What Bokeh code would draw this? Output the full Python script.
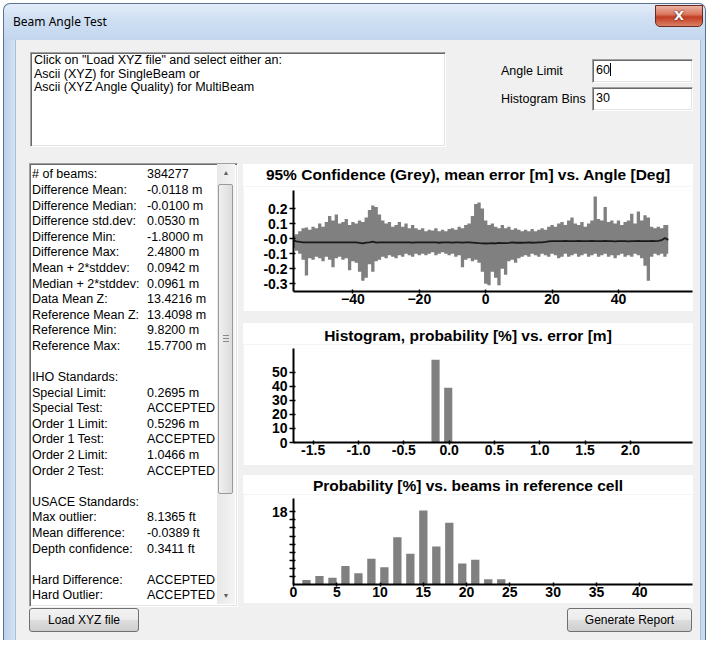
import html
from bokeh.plotting import figure
from bokeh.models import Range1d, FixedTicker, Div, Spacer
from bokeh.layouts import column, row
from bokeh.embed import file_html
from bokeh.resources import INLINE

# ---------------- data ----------------
angle_deg = list(range(-58, 56))
conf_upper = [0.02, 0.03, 0.05, 0.07, 0.075, 0.06, 0.08, 0.07, 0.10, 0.08,
              0.11, 0.15, 0.12, 0.16, 0.10, 0.11, 0.13, 0.09, 0.11, 0.10,
              0.12, 0.11, 0.14, 0.19, 0.22, 0.21, 0.16, 0.12, 0.10, 0.11,
              0.08, 0.09, 0.11, 0.08, 0.10, 0.07, 0.09, 0.07, 0.06, 0.07,
              0.05, 0.06, 0.055, 0.07, 0.05, 0.06, 0.05, 0.065, 0.07, 0.06,
              0.08, 0.07, 0.09, 0.10, 0.15, 0.23, 0.24, 0.20, 0.12, 0.09,
              0.10, 0.08, 0.07, 0.09, 0.07, 0.08, 0.06, 0.07, 0.06, 0.05,
              0.06, 0.05, 0.065, 0.05, 0.06, 0.07, 0.06, 0.08, 0.09, 0.08,
              0.10, 0.11, 0.09, 0.12, 0.14, 0.10, 0.09, 0.11, 0.08, 0.10,
              0.12, 0.28, 0.13, 0.12, 0.21, 0.11, 0.12, 0.10, 0.12, 0.09,
              0.11, 0.12, 0.165, 0.10, 0.18, 0.12, 0.155, 0.14, 0.08, 0.07,
              0.08, 0.07, 0.09, 0.09]
conf_lower = [-0.06, -0.08, -0.10, -0.14, -0.245, -0.13, -0.14, -0.12, -0.13, -0.15,
              -0.12, -0.14, -0.19, -0.13, -0.12, -0.14, -0.13, -0.21, -0.15, -0.16,
              -0.22, -0.28, -0.26, -0.17, -0.22, -0.15, -0.14, -0.12, -0.13, -0.11,
              -0.12, -0.13, -0.11, -0.12, -0.10, -0.11, -0.12, -0.10, -0.11, -0.10,
              -0.11, -0.10, -0.09, -0.11, -0.10, -0.09, -0.10, -0.11, -0.10, -0.12,
              -0.11, -0.19, -0.14, -0.13, -0.15, -0.14, -0.16, -0.22, -0.30, -0.31,
              -0.22, -0.26, -0.31, -0.20, -0.24, -0.15, -0.14, -0.16, -0.13, -0.12,
              -0.11, -0.12, -0.10, -0.11, -0.12, -0.10, -0.11, -0.12, -0.10, -0.11,
              -0.13, -0.12, -0.10, -0.12, -0.11, -0.10, -0.12, -0.11, -0.10, -0.12,
              -0.11, -0.10, -0.12, -0.11, -0.10, -0.12, -0.11, -0.13, -0.11, -0.10,
              -0.12, -0.11, -0.12, -0.10, -0.11, -0.13, -0.18, -0.28, -0.12, -0.10,
              -0.11, -0.10, -0.12, -0.10]
mean_error = [-0.012, -0.018, -0.022, -0.024, -0.025, -0.024, -0.025, -0.024, -0.025,
              -0.024, -0.025, -0.024, -0.025, -0.025, -0.024, -0.025, -0.024, -0.025, -0.024,
              -0.025, -0.028, -0.032, -0.026, -0.024, -0.020, -0.026, -0.025, -0.024, -0.025,
              -0.025, -0.024, -0.025, -0.024, -0.025, -0.024, -0.025, -0.026, -0.025, -0.024,
              -0.025, -0.024, -0.025, -0.024, -0.025, -0.027, -0.025, -0.024, -0.025, -0.026,
              -0.025, -0.024, -0.026, -0.025, -0.024, -0.026, -0.028, -0.030, -0.031, -0.032,
              -0.031, -0.030, -0.032, -0.028, -0.030, -0.029, -0.028, -0.025, -0.027, -0.026,
              -0.027, -0.026, -0.025, -0.027, -0.026, -0.025, -0.024, -0.022, -0.018, -0.016,
              -0.016, -0.017, -0.016, -0.015, -0.016, -0.017, -0.016, -0.015, -0.016, -0.017,
              -0.016, -0.014, -0.016, -0.017, -0.016, -0.015, -0.016, -0.017, -0.018, -0.016,
              -0.017, -0.016, -0.018, -0.017, -0.016, -0.015, -0.016, -0.017, -0.016, -0.015,
              -0.016, -0.014, -0.010, 0.004, -0.008]
angle_ticks = [-40, -20, 0, 20, 40]
error_ticks = [-0.3, -0.2, -0.1, 0, 0.1, 0.2]
error_tick_labels = ["-0.3", "-0.2", "-0.1", "-0.0", "0.1", "0.2"]

hist_error = [-0.15, -0.01]
hist_prob = [59, 39]
hist_x_ticks = [-1.5, -1.0, -0.5, 0, 0.5, 1.0, 1.5, 2.0]
hist_x_labels = ["-1.5", "-1.0", "-0.5", "0.0", "0.5", "1.0", "1.5", "2.0"]
hist_y_ticks = [0, 10, 20, 30, 40, 50]

beams_in_cell = [1.5, 3.0, 4.5, 6.0, 7.5, 9.0, 10.5, 12.0, 13.5, 15.0, 16.5, 18.0, 19.5, 21.0, 22.5, 24.0]
beam_prob = [1.1, 2.1, 1.7, 4.6, 2.8, 6.4, 4.3, 11.7, 7.6, 18.3, 9.4, 15.3, 5.2, 6.1, 1.3, 1.3]
beam_x_ticks = [0, 5, 10, 15, 20, 25, 30, 35, 40]
beam_y_ticks = [2, 4, 6, 8, 10, 12, 14, 16, 18]
beam_y_labels = ["", "", "", "", "", "", "", "", "18"]

stat_labels = ["# of beams:", "Difference Mean:", "Difference Median:", "Difference std.dev:",
               "Difference Min:", "Difference Max:", "Mean + 2*stddev:", "Median + 2*stddev:",
               "Data Mean Z:", "Reference Mean Z:", "Reference Min:", "Reference Max:", "",
               "IHO Standards:", "Special Limit:", "Special Test:", "Order 1 Limit:", "Order 1 Test:",
               "Order 2 Limit:", "Order 2 Test:", "", "USACE Standards:", "Max outlier:",
               "Mean difference:", "Depth confidence:", "", "Hard Difference:", "Hard Outlier:"]
stat_values = ["384277", "-0.0118 m", "-0.0100 m", "0.0530 m", "-1.8000 m", "2.4800 m",
               "0.0942 m", "0.0961 m", "13.4216 m", "13.4098 m", "9.8200 m", "15.7700 m", "",
               "", "0.2695 m", "ACCEPTED", "0.5296 m", "ACCEPTED", "1.0466 m", "ACCEPTED", "",
               "", "8.1365 ft", "-0.0389 ft", "0.3411 ft", "", "ACCEPTED", "ACCEPTED"]

instructions = ['Click on "Load XYZ file" and select either an:',
                "Ascii (XYZ) for SingleBeam or",
                "Ascii (XYZ Angle Quality) for MultiBeam"]
window_title = "Beam Angle Test"
angle_limit = "60"
histogram_bins = "30"

titles = ["95% Confidence (Grey), mean error [m] vs. Angle [Deg]",
          "Histogram, probability [%] vs. error [m]",
          "Probability [%] vs. beams in reference cell"]

# ---------------- styles ----------------
TICK_FONT = "Liberation Sans"
UI_FONT = "'Liberation Sans', Arial, sans-serif"
GREY = "#808080"
CLIENT_BG = "#f0f0f0"
FRAME_DARK = "#5b7291"
FRAME_LIGHT = "#a9bed8"


def make_fig(h, xr, yr, bottom):
    p = figure(width=450, height=h, x_range=Range1d(*xr), y_range=Range1d(*yr),
               output_backend="svg", toolbar_location=None, title=None,
               min_border_left=50, min_border_right=1,
               min_border_top=4, min_border_bottom=bottom,
               background_fill_color="white", border_fill_color="white",
               outline_line_color=None, margin=0)
    p.xgrid.visible = False
    p.ygrid.visible = False
    for ax in (p.xaxis[0], p.yaxis[0]):
        ax.axis_line_width = 2
        ax.axis_line_color = "black"
        ax.major_tick_line_width = 1.5
        ax.major_tick_line_color = "black"
        ax.major_tick_in = 2
        ax.minor_tick_line_color = None
        ax.major_label_text_font = TICK_FONT
        ax.major_label_text_font_size = "14px"
        ax.major_label_text_font_style = "bold"
        ax.major_label_text_color = "black"
    p.xaxis.major_tick_out = 2
    p.yaxis.major_tick_out = 4
    p.xaxis.major_label_standoff = 0
    p.yaxis.major_label_standoff = 2
    return p


def title_div(text, h, top):
    return Div(text=(f'<div style="position:relative;width:450px;height:{h}px;">'
                     f'<div style="position:absolute;left:0;top:{top}px;width:450px;text-align:center;'
                     f'font:bold 15.5px {UI_FONT};line-height:18px;color:#000;white-space:nowrap;">'
                     f'{html.escape(text)}</div></div>'),
               width=450, height=h, margin=0, styles={"background": "white"})


# chart 1: confidence band and mean error vs. angle
p1 = make_fig(125, (-57.9, 62.3), (-0.351, 0.32), 20)
p1.varea_step(x=angle_deg, y1=conf_lower, y2=conf_upper, step_mode="center", fill_color=GREY)
p1.line(angle_deg, mean_error, line_color="#1a1a1a", line_width=1.8)
p1.xaxis.ticker = FixedTicker(ticks=angle_ticks)
p1.yaxis.ticker = FixedTicker(ticks=error_ticks)
p1.yaxis.major_label_overrides = dict(zip(error_ticks, error_tick_labels))

# chart 2: histogram of errors
p2 = make_fig(121, (-1.717, 2.685), (0, 67.1), 23)
p2.vbar(x=hist_error, top=hist_prob, width=0.09, bottom=0, fill_color=GREY, line_color=None)
p2.xaxis.ticker = FixedTicker(ticks=hist_x_ticks)
p2.xaxis.major_label_overrides = dict(zip(hist_x_ticks, hist_x_labels))
p2.yaxis.ticker = FixedTicker(ticks=hist_y_ticks)

# chart 3: beams per reference cell
p3 = make_fig(109, (0, 46.1), (0, 21.3), 19)
p3.vbar(x=beams_in_cell, top=beam_prob, width=0.96, bottom=0, fill_color=GREY, line_color=None)
p3.xaxis.ticker = FixedTicker(ticks=beam_x_ticks)
p3.yaxis.ticker = FixedTicker(ticks=beam_y_ticks)
p3.yaxis.major_label_overrides = dict(zip(beam_y_ticks, beam_y_labels))

# ---------------- dialog chrome (HTML) ----------------
def div(html_text, w, h, bg=CLIENT_BG):
    return Div(text=html_text, width=w, height=h, margin=0,
               styles={"background": bg, "overflow": "hidden"})


FRAME_BG = "linear-gradient(to right,#bcd0ea,#d3e2f4)"
title_html = (
    '<div style="position:relative;width:708px;height:40px;">'
    f'<div style="position:absolute;left:3px;top:3px;width:703px;height:37px;box-sizing:border-box;'
    f'border:1px solid {FRAME_DARK};border-bottom:none;border-radius:7px 7px 0 0;'
    'background:linear-gradient(to bottom,#e3edf9 0%,#d0e0f3 40%,#c2d6ee 100%);">'
    f'<div style="position:absolute;left:9px;top:9px;font:12px \'Noto Sans\',sans-serif;color:#000;white-space:nowrap;">{html.escape(window_title)}</div>'
    '<div style="position:absolute;left:651px;top:1px;width:48px;height:22px;box-sizing:border-box;'
    'border:1px solid #6b2a1f;border-radius:0 0 5px 5px;'
    'background:linear-gradient(to bottom,#eab3a5 0%,#d9765d 42%,#c23c22 55%,#d98063 100%);'
    'color:#fff;font:bold 13px \'DejaVu Sans\',sans-serif;text-align:center;line-height:20px;'
    'text-shadow:0 0 2px #3a0a00;">X</div></div></div>')
title_bar = Div(text=title_html, width=708, height=40, margin=0, styles={"background": "white"})

left_frame = div(f'<div style="margin-left:3px;width:13px;height:600px;box-sizing:border-box;'
                 f'border-left:1px solid {FRAME_DARK};border-right:1px solid {FRAME_LIGHT};background:{FRAME_BG};"></div>',
                 16, 600, bg="white")
right_frame = div(f'<div style="width:6px;height:600px;box-sizing:border-box;border-left:1px solid {FRAME_LIGHT};'
                  f'border-right:1px solid {FRAME_DARK};background:#c9daef;"></div>', 8, 600, bg="white")
bottom_frame = div(f'<div style="margin-left:3px;width:703px;height:6px;box-sizing:border-box;'
                   f'border:1px solid {FRAME_DARK};border-top:1px solid {FRAME_LIGHT};border-radius:0 0 4px 4px;'
                   'background:#c9daef;"></div>', 708, 6, bg="white")

SUNKEN = ("border-top:1px solid #a0a0a0;border-left:1px solid #a0a0a0;border-right:1px solid #fff;"
          "border-bottom:1px solid #fff;box-shadow:inset 1px 1px 0 #696969, inset -1px -1px 0 #e3e3e3;")
BUTTON = ("box-sizing:border-box;border:1px solid #707070;border-radius:3px;"
          "background:linear-gradient(to bottom,#f2f2f2 0%,#ebebeb 50%,#dddddd 51%,#cfcfcf 100%);"
          f"font:12px {UI_FONT};color:#000;text-align:center;white-space:nowrap;")

# client area is x 16..700, y 40..640 of the window
instr_lines = "".join(f'<div style="white-space:nowrap;">{html.escape(t)}</div>' for t in instructions)
top_html = (
    f'<div style="position:relative;width:684px;height:120px;font:12.5px {UI_FONT};color:#000;">'
    f'<div style="position:absolute;left:14px;top:12px;width:416px;height:95px;box-sizing:border-box;'
    f'background:#fff;{SUNKEN}padding:1px 0 0 3px;line-height:13.5px;">{instr_lines}</div>'
    '<div style="position:absolute;left:485px;top:24px;white-space:nowrap;">Angle Limit</div>'
    '<div style="position:absolute;left:485px;top:52px;white-space:nowrap;">Histogram Bins</div>'
    f'<div style="position:absolute;left:576px;top:19px;width:101px;height:24px;box-sizing:border-box;background:#fff;{SUNKEN}'
    f'padding:3px 0 0 3px;">{angle_limit}<span style="display:inline-block;width:1px;height:13px;background:#000;vertical-align:-2px;"></span></div>'
    f'<div style="position:absolute;left:576px;top:47px;width:101px;height:24px;box-sizing:border-box;background:#fff;{SUNKEN}'
    f'padding:3px 0 0 3px;">{histogram_bins}</div>'
    '</div>')
top_div = div(top_html, 684, 120)

LINE_H = 15.59
stat_rows = []
for i, (lab, val) in enumerate(zip(stat_labels, stat_values)):
    t = 3.4 + i * LINE_H
    if lab:
        stat_rows.append(f'<div style="position:absolute;left:2px;top:{t:.2f}px;white-space:nowrap;">{html.escape(lab)}</div>')
    if val:
        stat_rows.append(f'<div style="position:absolute;left:117px;top:{t:.2f}px;white-space:nowrap;">{html.escape(val)}</div>')
scrollbar = (
    '<div style="position:absolute;left:187px;top:0px;width:18px;height:440px;background:linear-gradient(to right,#e8e8e8,#f4f4f4);">'
    '<div style="position:absolute;left:0;top:0;width:18px;height:17px;text-align:center;font:7px sans-serif;color:#606060;line-height:17px;">&#9650;</div>'
    '<div style="position:absolute;left:1px;top:20px;width:15px;height:310px;box-sizing:border-box;border:1px solid #9a9a9a;border-radius:2px;'
    'background:linear-gradient(to right,#f0f0f0,#dcdcdc);">'
    '<div style="position:absolute;left:4px;top:150px;width:6px;height:1px;background:#8a8a8a;box-shadow:0 3px 0 #8a8a8a,0 6px 0 #8a8a8a;"></div></div>'
    '<div style="position:absolute;left:0;top:423px;width:18px;height:17px;text-align:center;font:7px sans-serif;color:#606060;line-height:17px;">&#9660;</div>'
    '</div>')
left_html = (
    f'<div style="position:relative;width:227px;height:480px;font:12.5px {UI_FONT};color:#000;">'
    f'<div style="position:absolute;left:13px;top:3px;width:209px;height:444px;box-sizing:border-box;background:#fff;{SUNKEN}'
    f'line-height:{LINE_H}px;">{"".join(stat_rows)}{scrollbar}</div>'
    f'<div style="position:absolute;left:13px;top:448px;width:110px;height:24px;{BUTTON}line-height:22px;">Load XYZ file</div>'
    '</div>')
left_div = div(left_html, 227, 480)

btn_html = (f'<div style="position:relative;width:450px;height:32px;">'
            f'<div style="position:absolute;left:324px;top:0px;width:125px;height:24px;{BUTTON}line-height:22px;">Generate Report</div></div>')
btn_div = div(btn_html, 450, 32)


def gap(h, w=450):
    return Spacer(width=w, height=h, margin=0, styles={"background": CLIENT_BG})


charts_col = column([gap(4),
                     title_div(titles[0], 22, 2), p1, gap(12),
                     title_div(titles[1], 21, 4), p2, gap(10),
                     title_div(titles[2], 19, 2), p3, gap(5), btn_div],
                    spacing=0, margin=0)
middle = row([left_div, charts_col, gap(480, 7)], spacing=0, margin=0)
client = column([top_div, middle], spacing=0, margin=0, styles={"background": CLIENT_BG})
body = row([left_frame, client, right_frame], spacing=0, margin=0)
root = column([title_bar, body, bottom_frame], spacing=0, margin=0)

open("out.html", "w").write(file_html(root, INLINE, title=window_title))
